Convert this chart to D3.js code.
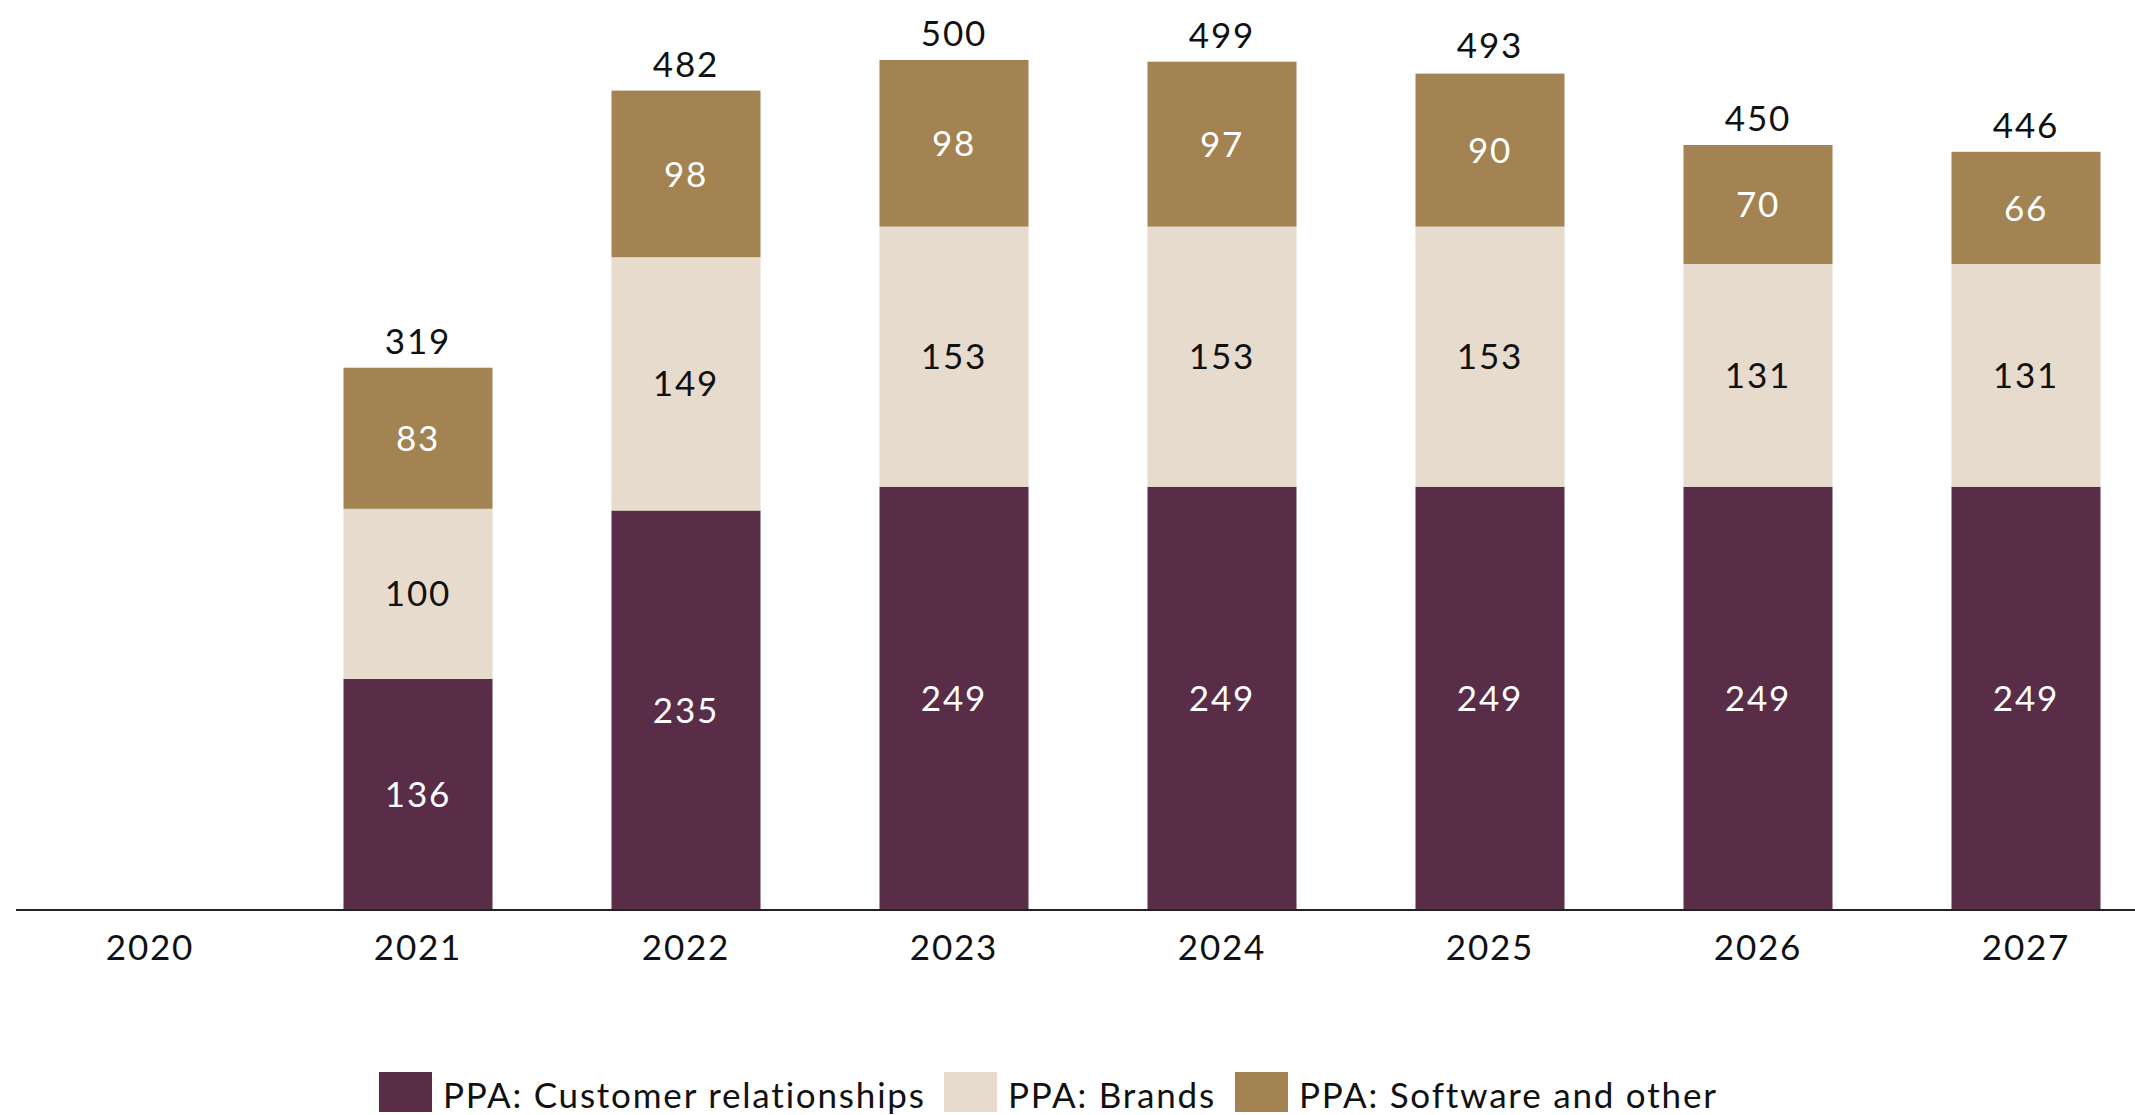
<!DOCTYPE html>
<html>
<head>
  <meta charset="UTF-8">
  <title>PPA stacked bars</title>
  <script src="https://cdn.jsdelivr.net/npm/d3@7"></script>
  <style>
    body { margin: 0; background: #fff; }
    svg text { font-family: Lato, "Noto Sans", sans-serif; font-size: 35px; letter-spacing: 1.8px; }
  </style>
</head>
<body>
<script>
// data
const years = ["2020", "2021", "2022", "2023", "2024", "2025", "2026", "2027"];
const customer = [0, 136, 235, 249, 249, 249, 249, 249];
const brands   = [0, 100, 149, 153, 153, 153, 131, 131];
const software = [0, 83, 98, 98, 97, 90, 70, 66];
const totals   = [null, 319, 482, 500, 499, 493, 450, 446];
const seriesNames = ["PPA: Customer relationships", "PPA: Brands", "PPA: Software and other"];

const colors = ["#592c47", "#e6dbcc", "#a38352"];
const labelColors = ["#fff", "#111", "#fff"];

const width = 2135, height = 1115;
const baseY = 910;

const svg = d3.select("body").append("svg")
  .attr("width", width)
  .attr("height", height);

const rows = years.map((y, i) => ({year: y, c: customer[i], b: brands[i], s: software[i], total: totals[i]}));
const stack = d3.stack().keys(["c", "b", "s"])(rows);

const x = d3.scaleBand()
  .domain(years)
  .range([16, 2160])
  .paddingInner(0.444)
  .paddingOuter(0.222);

const y = d3.scaleLinear()
  .domain([0, 535.3])
  .range([baseY, 0]);

// bars
const layers = svg.append("g").selectAll("g")
  .data(stack)
  .join("g")
  .attr("fill", (d, i) => colors[i]);

layers.selectAll("rect")
  .data(d => d.filter(p => p[1] > p[0]))
  .join("rect")
  .attr("x", d => x(d.data.year))
  .attr("width", x.bandwidth())
  .attr("y", d => y(d[1]))
  .attr("height", d => y(d[0]) - y(d[1]));

// segment labels
stack.forEach((layer, li) => {
  svg.append("g").selectAll("text")
    .data(layer.filter(p => p[1] > p[0]))
    .join("text")
    .attr("x", d => x(d.data.year) + x.bandwidth() / 2)
    .attr("y", d => (y(d[0]) + y(d[1])) / 2)
    .attr("dy", "0.36em")
    .attr("text-anchor", "middle")
    .attr("fill", labelColors[li])
    .text(d => d[1] - d[0]);
});

// totals
svg.append("g").selectAll("text")
  .data(rows.filter(r => r.total != null))
  .join("text")
  .attr("x", d => x(d.year) + x.bandwidth() / 2)
  .attr("y", d => y(d.total) - 14)
  .attr("text-anchor", "middle")
  .attr("fill", "#111")
  .text(d => d.total);

// x axis
const xAxis = d3.axisBottom(x).tickSize(0).tickPadding(25);
const ax = svg.append("g")
  .attr("transform", "translate(0," + baseY + ")")
  .call(xAxis);
ax.select(".domain").attr("d", "M16,0H" + width).attr("stroke", "#222").attr("stroke-width", 2);
ax.selectAll("text")
  .style("font-size", "35px")
  .style("font-family", "Lato, sans-serif")
  .attr("fill", "#111");

// legend
const legendX = [379, 944, 1235];
const legend = svg.append("g").selectAll("g")
  .data(seriesNames)
  .join("g")
  .attr("transform", (d, i) => "translate(" + legendX[i] + ",1072)");
legend.append("rect")
  .attr("width", 53)
  .attr("height", 40)
  .attr("fill", (d, i) => colors[i]);
legend.append("text")
  .attr("x", 64)
  .attr("y", 23)
  .attr("dy", "0.36em")
  .attr("fill", "#111")
  .text(d => d);
</script>
</body>
</html>
